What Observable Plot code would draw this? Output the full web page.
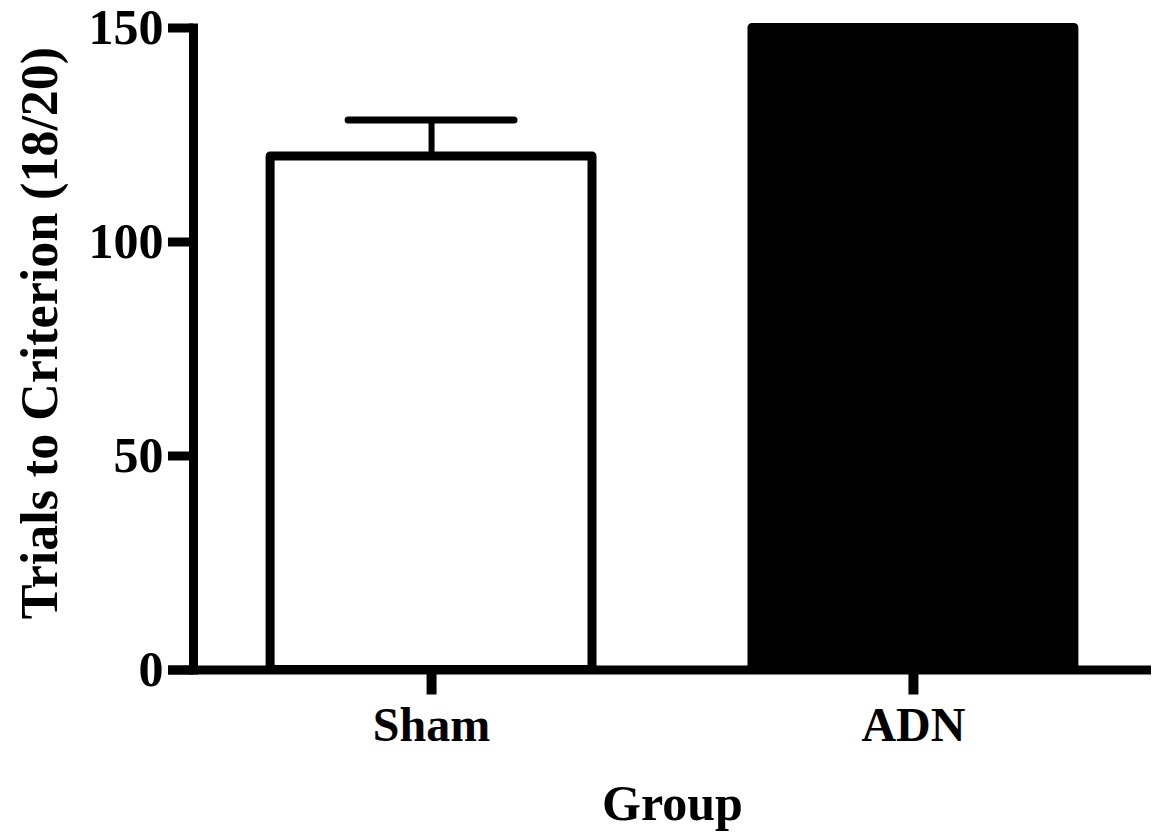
<!DOCTYPE html>
<html><head><meta charset="utf-8">
<script src="https://cdn.jsdelivr.net/npm/d3@7"></script>
<script src="https://cdn.jsdelivr.net/npm/@observablehq/plot@0.6"></script>
<style>body{margin:0;background:#fff}</style>
</head><body><div id="chart"></div>
<script>
const groups = ["Sham", "ADN"];
const means = [120, 150];
const sems = [8.5, 0];
const yTicks = [0, 50, 100, 150];
const barFills = ["white", "black"];
const yTitle = "Trials to Criterion (18/20)";
const xTitle = "Group";

const data = groups.map((g, i) => ({group: g, mean: means[i], sem: sems[i]}));
const errs = data.filter(d => d.sem > 0);
const font = "'Liberation Serif','Times New Roman',Times,serif";

const chart = Plot.plot({
  width: 1155, height: 838,
  marginLeft: 193, marginRight: 4, marginTop: 27.5, marginBottom: 168.5,
  style: {fontFamily: font, fontWeight: "bold", background: "white", color: "black"},
  x: {domain: groups, paddingInner: 0.332, paddingOuter: 0.16, round: false, label: null},
  y: {domain: [0, 150], label: null},
  color: {domain: groups, range: barFills},
  marks: [
    Plot.barY(data, {x: "group", y: "mean", fill: "group", stroke: "black", strokeWidth: 9, strokeLinejoin: "round"}),
    Plot.ruleX(errs, {x: "group", y1: "mean", y2: d => d.mean + d.sem, strokeWidth: 6}),
    Plot.tickY(errs, {x: "group", y: d => d.mean + d.sem, strokeWidth: 7, insetLeft: 78, insetRight: 78, strokeLinecap: "round"}),
    Plot.frame({anchor: "left", strokeWidth: 9, strokeLinecap: "square"}),
    Plot.ruleY([0], {strokeWidth: 9, insetLeft: -25}),
    Plot.axisY({ticks: yTicks, tickSize: 25, tickPadding: 5, strokeWidth: 9, fontSize: 50, fontWeight: "bold", label: null}),
    Plot.axisX({tickSize: 25, tickPadding: 12, strokeWidth: 10, fontSize: 48, fontWeight: "bold", label: null}),
    Plot.text([yTitle], {frameAnchor: "left", rotate: -90, dx: -153, dy: -16, fontSize: 52, fontWeight: "bold", textAnchor: "middle", lineAnchor: "middle"}),
    Plot.text([xTitle], {frameAnchor: "bottom", dy: 133.5, fontSize: 50, fontWeight: "bold", textAnchor: "middle", lineAnchor: "middle"})
  ]
});
document.getElementById("chart").appendChild(chart);
</script>
</body></html>
